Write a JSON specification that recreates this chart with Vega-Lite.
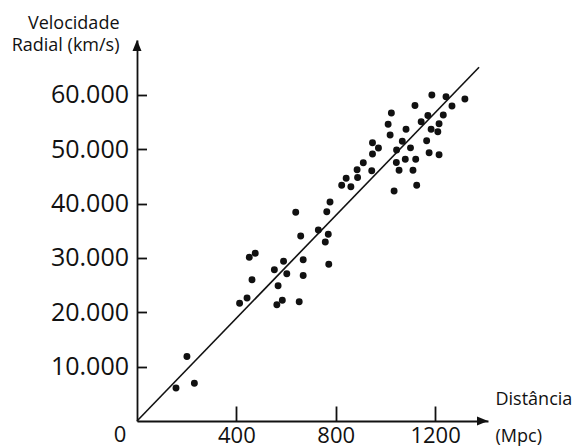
{
  "$schema": "https://vega.github.io/schema/vega-lite/v6.json",
  "width": 351,
  "height": 381,
  "autosize": {"type": "none"},
  "padding": {"left": 137, "top": 40, "right": 91, "bottom": 27},
  "background": "white",
  "config": {
    "view": {"stroke": null},
    "font": "Open Sans",
    "axis": {
      "grid": false,
      "domainColor": "#111111",
      "tickColor": "#111111",
      "labelColor": "#111111",
      "titleColor": "#111111",
      "domainWidth": 1.8,
      "tickWidth": 1.8,
      "labelFont": "Open Sans",
      "titleFont": "Open Sans",
      "titleFontWeight": "normal",
      "titleFontSize": 18
    }
  },
  "datasets": {
    "galaxias": [
      {"distancia": 157, "velocidade": 6070},
      {"distancia": 201, "velocidade": 11870},
      {"distancia": 231, "velocidade": 6940},
      {"distancia": 413, "velocidade": 21660},
      {"distancia": 443, "velocidade": 22640},
      {"distancia": 452, "velocidade": 30150},
      {"distancia": 476, "velocidade": 30880},
      {"distancia": 463, "velocidade": 26010},
      {"distancia": 553, "velocidade": 27830},
      {"distancia": 590, "velocidade": 29410},
      {"distancia": 603, "velocidade": 27110},
      {"distancia": 568, "velocidade": 24900},
      {"distancia": 563, "velocidade": 21390},
      {"distancia": 585, "velocidade": 22230},
      {"distancia": 653, "velocidade": 21940},
      {"distancia": 669, "velocidade": 29670},
      {"distancia": 669, "velocidade": 26780},
      {"distancia": 659, "velocidade": 34050},
      {"distancia": 639, "velocidade": 38410},
      {"distancia": 730, "velocidade": 35150},
      {"distancia": 770, "velocidade": 34380},
      {"distancia": 758, "velocidade": 32940},
      {"distancia": 772, "velocidade": 28840},
      {"distancia": 764, "velocidade": 38520},
      {"distancia": 777, "velocidade": 40310},
      {"distancia": 824, "velocidade": 43380},
      {"distancia": 842, "velocidade": 44690},
      {"distancia": 861, "velocidade": 43120},
      {"distancia": 888, "velocidade": 44820},
      {"distancia": 886, "velocidade": 46250},
      {"distancia": 911, "velocidade": 47540},
      {"distancia": 945, "velocidade": 46050},
      {"distancia": 948, "velocidade": 49140},
      {"distancia": 948, "velocidade": 51220},
      {"distancia": 972, "velocidade": 50250},
      {"distancia": 1035, "velocidade": 42330},
      {"distancia": 1045, "velocidade": 49880},
      {"distancia": 1044, "velocidade": 47580},
      {"distancia": 1055, "velocidade": 46140},
      {"distancia": 1068, "velocidade": 51480},
      {"distancia": 1080, "velocidade": 48170},
      {"distancia": 1101, "velocidade": 50270},
      {"distancia": 1111, "velocidade": 46160},
      {"distancia": 1122, "velocidade": 48170},
      {"distancia": 1126, "velocidade": 43400},
      {"distancia": 1166, "velocidade": 51590},
      {"distancia": 1176, "velocidade": 49380},
      {"distancia": 1216, "velocidade": 49010},
      {"distancia": 1019, "velocidade": 52640},
      {"distancia": 1011, "velocidade": 54610},
      {"distancia": 1024, "velocidade": 56690},
      {"distancia": 1083, "velocidade": 53690},
      {"distancia": 1119, "velocidade": 58070},
      {"distancia": 1144, "velocidade": 55090},
      {"distancia": 1171, "velocidade": 56230},
      {"distancia": 1184, "velocidade": 53690},
      {"distancia": 1211, "velocidade": 53250},
      {"distancia": 1216, "velocidade": 54700},
      {"distancia": 1233, "velocidade": 56320},
      {"distancia": 1187, "velocidade": 60000},
      {"distancia": 1244, "velocidade": 59690},
      {"distancia": 1268, "velocidade": 57980},
      {"distancia": 1320, "velocidade": 59270}
    ],
    "reta": [
      {"distancia": 0, "velocidade": 0},
      {"distancia": 1377, "velocidade": 65100}
    ],
    "seta_y": [{"distancia": 0, "velocidade": 70120}],
    "seta_x": [{"distancia": 1413, "velocidade": 0}],
    "origem": [{"distancia": 0, "velocidade": 0, "rotulo": "0"}]
  },
  "encoding": {
    "x": {
      "field": "distancia",
      "type": "quantitative",
      "scale": {"domain": [0, 1413], "nice": false, "zero": false},
      "axis": {
        "values": [400, 800, 1200],
        "format": "d",
        "tickSize": -15,
        "labelPadding": 19,
        "labelBaseline": "top",
        "labelAlign": "center",
        "labelFontSize": 22,
        "labelFlush": false,
        "title": ["Distância", "(Mpc)"],
        "titleX": 358,
        "titleY": -17,
        "titleAlign": "left",
        "titleAnchor": "start",
        "titleBaseline": "alphabetic",
        "titleLineHeight": 37
      }
    },
    "y": {
      "field": "velocidade",
      "type": "quantitative",
      "scale": {"domain": [0, 70120], "nice": false, "zero": false},
      "axis": {
        "values": [10000, 20000, 30000, 40000, 50000, 60000],
        "labelExpr": "replace(format(datum.value, ','), ',', '.')",
        "tickSize": -9.5,
        "labelPadding": 18,
        "labelFontSize": 25,
        "labelBaseline": "middle",
        "title": ["Velocidade", "Radial (km/s)"],
        "titleAngle": 0,
        "titleX": -18,
        "titleY": -12,
        "titleAlign": "right",
        "titleAnchor": "start",
        "titleBaseline": "alphabetic",
        "titleLineHeight": 22
      }
    }
  },
  "layer": [
    {
      "data": {"name": "reta"},
      "mark": {"type": "line", "color": "#111111", "strokeWidth": 1.6}
    },
    {
      "data": {"name": "galaxias"},
      "mark": {"type": "circle", "color": "#111111", "opacity": 1, "size": 48}
    },
    {
      "data": {"name": "seta_y"},
      "mark": {"type": "point", "filled": true, "opacity": 1, "color": "#111111", "size": 100, "shape": "M0,0L-0.9,2.2L0.9,2.2Z"}
    },
    {
      "data": {"name": "seta_x"},
      "mark": {"type": "point", "filled": true, "opacity": 1, "color": "#111111", "size": 100, "shape": "M0,0L-2.2,-0.9L-2.2,0.9Z"}
    },
    {
      "data": {"name": "origem"},
      "mark": {"type": "text", "color": "#111111", "font": "Open Sans", "fontSize": 22, "align": "center", "baseline": "top", "dx": -17, "dy": 4},
      "encoding": {"text": {"field": "rotulo"}}
    }
  ]
}
